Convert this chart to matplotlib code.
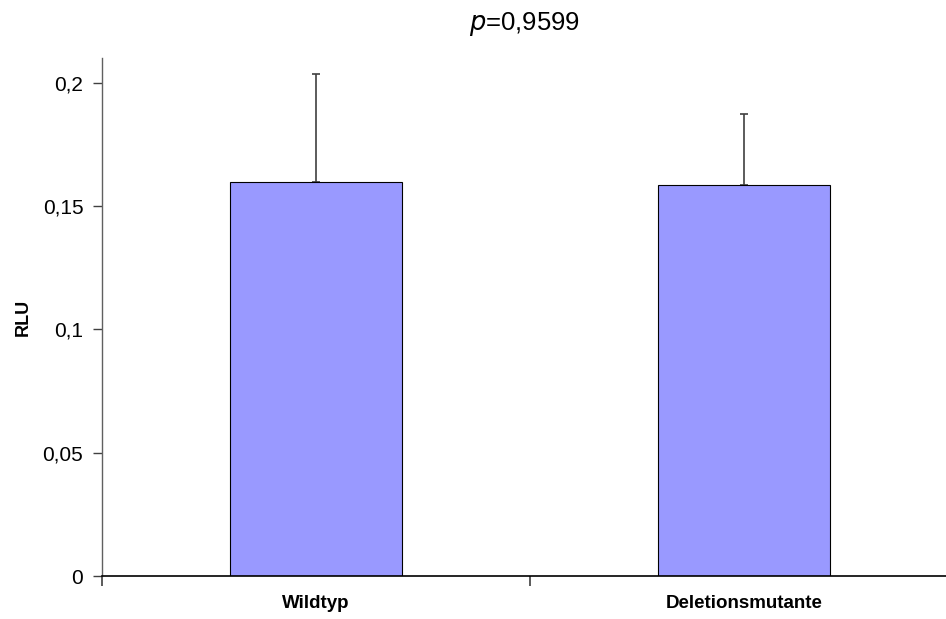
import matplotlib.pyplot as plt
import numpy as np

# Daten
gruppen = ['Wildtyp', 'Deletionsmutante']
rlu = [0.1599, 0.1586]
fehler = [0.0436, 0.0285]
p_wert = '0,9599'
y_ticks = [0, 0.05, 0.1, 0.15, 0.2]
y_labels = ['0', '0,05', '0,1', '0,15', '0,2']

plt.rcParams['font.family'] = ['Liberation Sans', 'DejaVu Sans']

fig = plt.figure(figsize=(9.46, 6.19), dpi=100)
ax = fig.add_axes([102 / 946, 1 - 576 / 619, (946 - 102) / 946, (576 - 58) / 619])

x = np.arange(len(gruppen))
ax.bar(x, rlu, width=0.4, color='#9999FF', edgecolor='black', linewidth=0.8, zorder=2)
# nur obere Fehlerbalken
ax.errorbar(x, rlu, yerr=[np.zeros(len(fehler)), fehler], fmt='none',
            ecolor='#404040', elinewidth=1.2, capsize=3, capthick=1.2, zorder=1)

ax.set_xlim(-0.5, 1.472)
ax.set_ylim(0, 0.21)

ax.set_yticks(y_ticks)
ax.set_yticklabels(y_labels, fontsize=15)
ax.tick_params(axis='y', direction='out', length=6.5, width=1, color='#404040', pad=7)

# Kategorien-Beschriftung mittig, Striche an den Grenzen
ax.set_xticks([-0.5, 0.5])
ax.set_xticklabels([])
ax.set_xticks(x, minor=True)
ax.set_xticklabels(gruppen, minor=True, fontsize=13.5, fontweight='bold')
ax.tick_params(axis='x', which='major', direction='out', length=7, width=1.2, color='#404040')
ax.tick_params(axis='x', which='minor', length=0, pad=14)

ax.spines['top'].set_visible(False)
ax.spines['right'].set_visible(False)
ax.spines['left'].set_color('#606060')
ax.spines['left'].set_linewidth(1)
ax.spines['bottom'].set_color('black')
ax.spines['bottom'].set_linewidth(1.2)

ax.set_ylabel('RLU', fontsize=13, fontweight='bold', labelpad=8)
ax.set_title('$\\it{p}$=' + p_wert, fontsize=18.5, pad=20)

fig.savefig('out.png', dpi=100)
